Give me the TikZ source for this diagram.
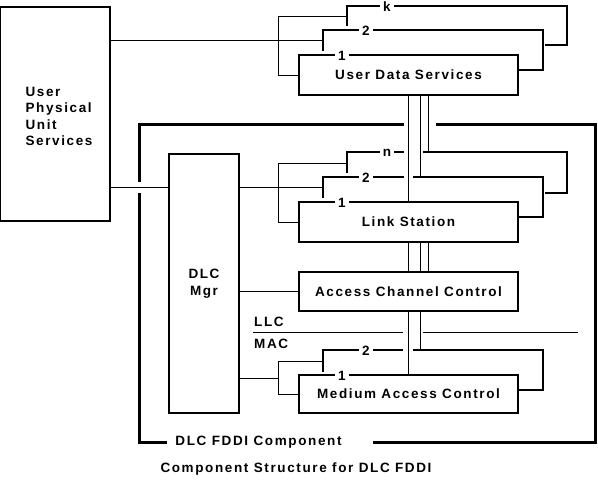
\documentclass[tikz,border=0pt]{standalone}
\usepackage{fontspec}
\setmainfont{Liberation Sans}[LetterSpace=12]
\usepackage{tikz}
\usetikzlibrary{positioning}
\tikzset{
Box/.style={
	draw, rectangle,
	line width=1.8pt,
	inner sep=0pt,
	align=center
},
Back/.style={
	draw=black,
	line width=1.8pt
},
Link/.style={
	draw=black,
	line width=1pt
},
Frame/.style={
	draw=black,
	line width=3pt
},
Tag/.style={
	fill=white,
	inner xsep=3pt,
	inner ysep=0pt
}
}

\begin{document}
\begin{tikzpicture}[x=1pt, y=-1pt, font=\bfseries\fontsize{13.5}{16.5}\selectfont]
	\useasboundingbox (0,0) rectangle (598,483);

	\node[Box, minimum width=110pt, minimum height=214pt] (upus) at (55,114) {};
	\node[align=left, inner sep=0pt] (upustext) at (59,116.5) {User\\Physical\\Unit\\Services};
	\node[Box, minimum width=70pt, minimum height=259pt] (mgr) at (204,283.5) {DLC\\Mgr};

	\node[Box, minimum width=219pt, minimum height=40pt] (uds) at (408.5,75) {User Data Services};
	\node[Box, minimum width=219pt, minimum height=40pt] (ls) at (408.5,222) {Link Station};
	\node[Box, minimum width=219pt, minimum height=39pt] (acc) at (408.5,291.5) {Access Channel Control};
	\node[Box, minimum width=219pt, minimum height=38pt] (mac) at (408.5,394) {Medium Access Control};

	% stacked instances behind each box
	\draw[Back] (323,51) -- (323,30) -- (543,30) -- (543,70) -- (uds.east |- 0,70);
	\draw[Back] (347,26) -- (347,6) -- (567,6) -- (567,45) -- (545,45);
	\draw[Back] (323,198) -- (323,177) -- (404,177);
	\draw[Back] (413,177) -- (543,177) -- (543,217) -- (ls.east |- 0,217);
	\draw[Back] (347,173) -- (347,152) -- (404,152);
	\draw[Back] (423,152) -- (567,152) -- (567,193) -- (545,193);
	\draw[Back] (323,372) -- (323,350) -- (403,350);
	\draw[Back] (413,350) -- (543,350) -- (543,390) -- (mac.east |- 0,390);

	\node[Tag] (uds1) at (342,56) {1};
	\node[Tag] (uds2) at (366,31) {2};
	\node[Tag] (udsk) at (387,7) {k};
	\node[Tag] (ls1) at (342,203) {1};
	\node[Tag] (ls2) at (366,178) {2};
	\node[Tag] (lsn) at (387,153) {n};
	\node[Tag] (mac1) at (342,376) {1};
	\node[Tag] (mac2) at (366,351) {2};

	% DLC FDDI component frame
	\draw[Frame] (404,124) -- (139,124) -- (139,182);
	\draw[Frame] (139,193) -- (139,442) -- (167,442);
	\draw[Frame] (373,442) -- (595,442) -- (595,124) -- (436,124);
	\node[anchor=center] (comp) at (258.5,442) {DLC FDDI Component};

	% LLC / MAC boundary
	\draw[Link] (253,332) -- (403,332);
	\draw[Link] (423,332) -- (578,332);
	\node[anchor=south west, inner sep=0pt] (llc) at (254,327) {LLC};
	\node[anchor=north west, inner sep=0pt] (macl) at (254,339) {MAC};

	% connections
	\draw[Link] (upus.east |- 0,40) -- (323,40);
	\draw[Link] (347,16) -- (278,16) |- (uds.west);
	\draw[Link] (upus.east |- 0,187) -- (mgr.west |- 0,187);
	\draw[Link] (mgr.east |- 0,187) -- (323,187);
	\draw[Link] (347,163) -- (278,163) |- (ls.west);
	\draw[Link] (mgr.east |- acc.west) -- (acc.west);
	\draw[Link] (mgr.east |- 0,378) -- (278,378);
	\draw[Link] (323,361) -- (278,361) |- (mac.west);

	\draw[Link] (uds.south) -- (ls.north);
	\draw[Link] (uds.south -| 420,0) -- (420,177);
	\draw[Link] (uds.south -| 428,0) -- (428,152);
	\draw[Link] (ls.south) -- (acc.north);
	\draw[Link] (ls.south -| 420,0) -- (acc.north -| 420,0);
	\draw[Link] (ls.south -| 428,0) -- (acc.north -| 428,0);
	\draw[Link] (acc.south) -- (mac.north);
	\draw[Link] (acc.south -| 420,0) -- (420,350);

	\node (caption) at (296,469) {Component Structure for DLC FDDI};
\end{tikzpicture}
\end{document}
